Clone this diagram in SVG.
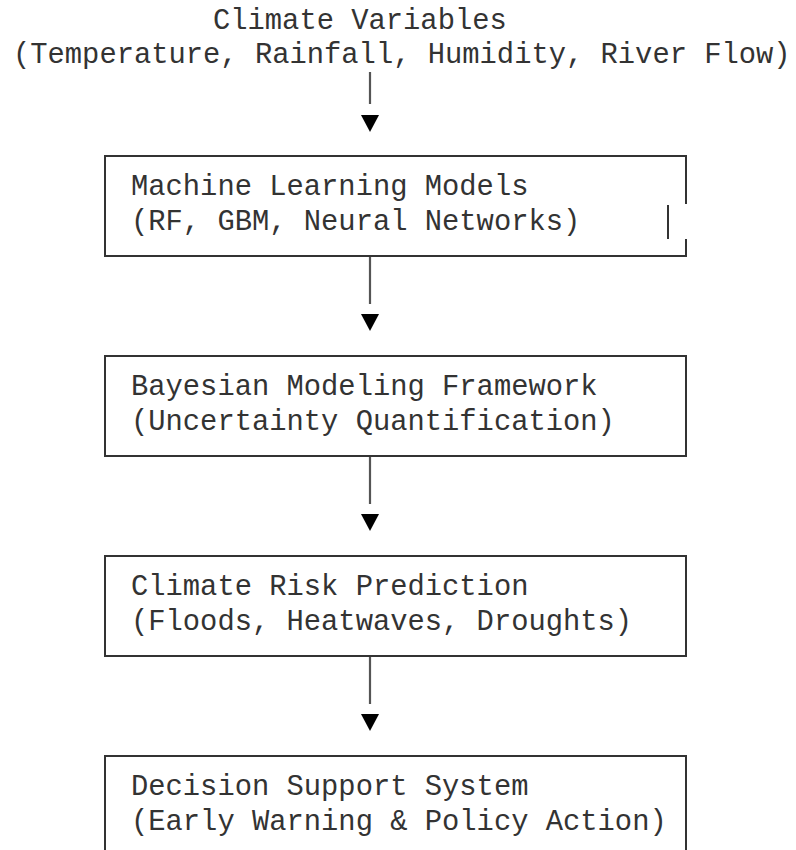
<svg xmlns="http://www.w3.org/2000/svg" width="796" height="850" viewBox="0 0 796 850">
  <style>
    text { font-family: "Liberation Mono", "Courier New", monospace; font-size: 28.8px; fill: #333; }
    .box { fill: none; stroke: #333; stroke-width: 2; }
    .edge { stroke: #555; stroke-width: 2.2; fill: none; }
    .head { fill: #000; }
  </style>
  <rect width="796" height="850" fill="#fff"/>
  <g id="climate-variables">
    <text x="213" y="29">Climate Variables</text>
    <text x="13" y="63">(Temperature, Rainfall, Humidity, River Flow)</text>
  </g>
  <g id="ml-models">
    <path class="box" d="M686,204 V156 H105 V256 H686 V239"/>
    <path class="box" d="M668,205 V239"/>
    <text x="131" y="195">Machine Learning Models</text>
    <text x="131" y="230">(RF, GBM, Neural Networks)</text>
  </g>
  <g id="bayesian">
    <rect class="box" x="105" y="356" width="581" height="100"/>
    <text x="131" y="395">Bayesian Modeling Framework</text>
    <text x="131" y="430">(Uncertainty Quantification)</text>
  </g>
  <g id="risk-prediction">
    <rect class="box" x="105" y="556" width="581" height="100"/>
    <text x="131" y="595">Climate Risk Prediction</text>
    <text x="131" y="630">(Floods, Heatwaves, Droughts)</text>
  </g>
  <g id="decision-support">
    <rect class="box" x="105" y="756" width="581" height="130"/>
    <text x="131" y="795">Decision Support System</text>
    <text x="131" y="830">(Early Warning &amp; Policy Action)</text>
  </g>
  <g id="connectors">
    <line class="edge" x1="370" y1="72" x2="370" y2="104"/>
    <polygon class="head" points="361,115 379,115 370,132"/>
    <line class="edge" x1="370" y1="257" x2="370" y2="304"/>
    <polygon class="head" points="361,314 379,314 370,331"/>
    <line class="edge" x1="370" y1="457" x2="370" y2="504"/>
    <polygon class="head" points="361,514 379,514 370,531"/>
    <line class="edge" x1="370" y1="657" x2="370" y2="704"/>
    <polygon class="head" points="361,714 379,714 370,731"/>
  </g>
</svg>
